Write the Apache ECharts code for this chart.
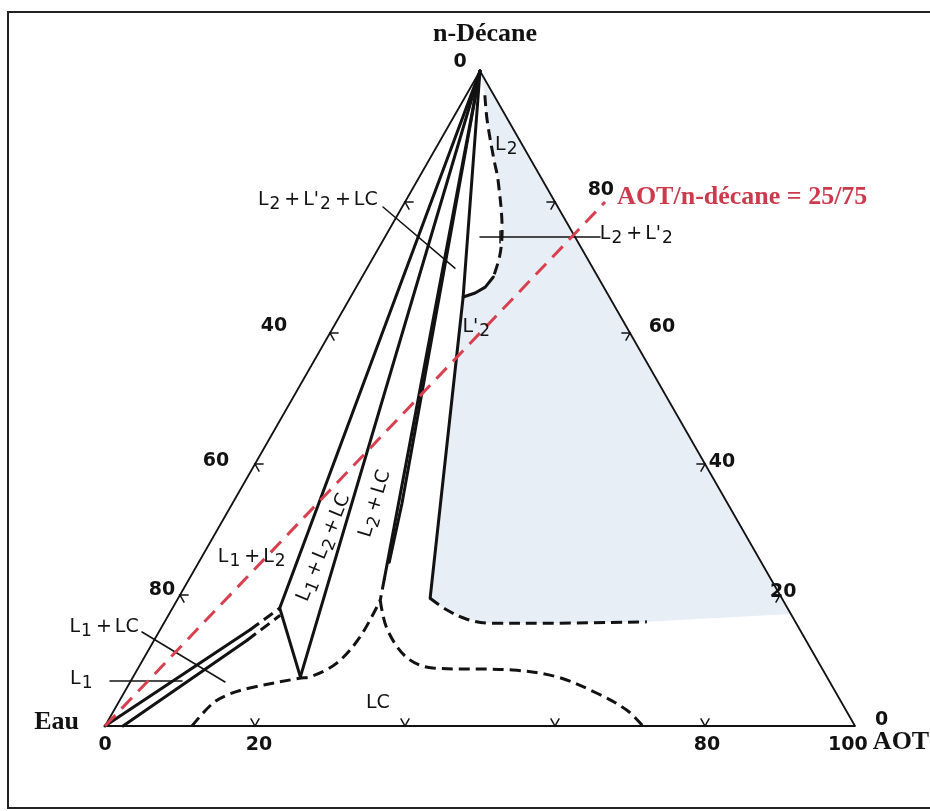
<!DOCTYPE html>
<html><head><meta charset="utf-8">
<script src="https://cdn.jsdelivr.net/npm/echarts@6/dist/echarts.min.js"></script>
<style>html,body{margin:0;padding:0;background:#fff}#c{width:930px;height:811px}</style>
</head><body><div id="c"></div>
<script>
// All compositions are ternary [AOT %, n-décane %] (water = remainder)
const triangle = [[0,0],[100,0],[0,100],[0,0]];
const bottomTicks = [20,40,60,80];   // AOT %
const leftTicks = [20,40,60,80];     // n-décane % on Eau / n-décane side
const rightTicks = [20,40,60,80];    // n-décane % on AOT / n-décane side

// solid phase boundaries / tie lines
const fanA = [[0,100],[14.3,18.0]];
const fanB = [[0,100],[22.3,7.5]];
const fanC = [[0,100],[26.0,22.5]];
const fanE = [[0,100],[22.6,34.0],[25.4,25.0]];
const fanD = [[0,100],[15.0,65.5],[33.6,19.5]];
const triBase = [[14.3,18.0],[22.3,7.5]];
const l1lcUpper = [[0,0],[12.0,14.7]];
const l1lcLower = [[2.4,0],[12.4,13.1]];
const l2Arc = [[17.5,68.55],[17.2,67.0],[16.3,66.1],[15.0,65.5]];

// dashed boundaries
const l1lcUpperDash = [[12.0,14.7],[14.3,18.0]];
const l1lcLowerDash = [[12.4,13.1],[14.9,16.9]];
const fanCDash = [[26.0,22.5],[27.1,19.2]];
const lcLeft = [[11.6,0],[12.65,3.5],[14.2,4.9],[16.4,5.8],[22.3,7.3],[23.6,7.5],[26.1,9.6],[27.2,13.6],[27.1,19.2]];
const lcRight = [[27.1,19.2],[30.3,14.7],[35.1,10.4],[39.3,8.85],[50.1,8.55],[56.5,7.5],[63.1,5.0],[68.4,2.4],[71.7,0]];
const shadeBottom = [[33.6,19.5],[36.75,17.7],[40.1,16.3],[43.5,15.7],[51.5,15.7],[64.3,15.9]];
const l2Dash = [[2.5,96.3],[4.7,92.5],[8.67,86.4],[10.7,83.4],[15.1,75.7],[16.7,71.9],[17.5,68.55]];

// single-phase shaded domain
const shade = [[0,100]].concat(l2Dash, l2Arc, shadeBottom, [[82.9,17.1]]);

// AOT / n-décane = 25/75 dilution line
const dilution = [[0,0],[26.67,80]];

// pointer lines of the labels
const pointers = [
  [[12.67,74.66],[28.67,74.66]],
  [[14.88,75.57],[15.8,73.74]],
  [[-2.55,79.24],[11.7,69.9]],
  [[-2.24,14.35],[12.64,6.72]],
  [[-2.77,6.87],[6.83,6.87]]
];

// text annotations: anchors in ternary coordinates
const labels = [
  {t:'n-Décane', at:[-2.15,105.65], k:'serif'},
  {t:'Eau', at:[-6.75,0.6], k:'serif'},
  {t:'AOT', at:[103.6,-2.44], k:'serif', al:'left'},
  {t:'0', at:[-3.35,101.37], k:'num'},
  {t:'0', at:[1.45,-2.9], k:'num'},
  {t:'20', at:[21.98,-2.9], k:'num'},
  {t:'80', at:[81.7,-2.9], k:'num'},
  {t:'100', at:[100.5,-2.9], k:'num'},
  {t:'0', at:[103.1,0.92], k:'num'},
  {t:'40', at:[-8.0,61.07], k:'num'},
  {t:'60', at:[-5.43,40.46], k:'num'},
  {t:'80', at:[-2.78,20.76], k:'num'},
  {t:'80', at:[25.2,81.83], k:'num'},
  {t:'60', at:[43.8,60.9], k:'num'},
  {t:'40', at:[62.1,40.3], k:'num'},
  {t:'20', at:[80.2,20.46], k:'num'},
  {t:'AOT/n-décane = 25/75', at:[27.9,80.76], k:'red', al:'left'},
  {t:'{a|L}{s|2}{p|+}{a|L\'}{s|2}{p|+}{a|LC}', at:[-11.7,80.15], k:'ph'},
  {t:'{a|L}{s|2}{p|+}{a|L\'}{s|2}', at:[28.5,74.96], k:'ph', al:'left'},
  {t:'{a|L}{s|2}', at:[9.3,88.55], k:'ph'},
  {t:'{a|L\'}{s|2}', at:[19.2,60.76], k:'ph'},
  {t:'{a|L}{s|1}{p|+}{a|L}{s|2}', at:[6.8,25.65], k:'ph'},
  {t:'{a|L}{s|1}{p|+}{a|L}{s|2}{p|+}{a|LC}', at:[15.7,27.18], k:'ph', rot:68},
  {t:'{a|L}{s|2}{p|+}{a|LC}', at:[19.2,33.9], k:'ph', rot:73},
  {t:'{a|L}{s|1}{p|+}{a|LC}', at:[-7.6,14.96], k:'ph'},
  {t:'{a|L}{s|1}', at:[-6.6,7.02], k:'ph'},
  {t:'{a|LC}', at:[34.7,3.36], k:'ph'}
];

const H = Math.sqrt(3) / 2;
const xy = t => [t[0] + t[1] / 2, t[1] * H];
const pts = arr => arr.map(xy);
const INK = '#121212';

function solid(data, w) {
  return {type:'line', data:pts(data), showSymbol:false, symbol:'none', clip:false, silent:true,
    animation:false, z:3, lineStyle:{color:INK, width:w || 3, cap:'round', join:'round'}};
}
function dashed(data, smooth) {
  return {type:'line', data:pts(data), showSymbol:false, symbol:'none', clip:false, silent:true,
    animation:false, z:3, smooth: smooth || 0, lineStyle:{color:INK, width:3, type:[11,6], cap:'butt'}};
}

const rich = {
  a:{fontFamily:'DejaVu Sans', fontSize:19, color:INK, lineHeight:21, verticalAlign:'top'},
  p:{fontFamily:'DejaVu Sans', fontSize:19, color:INK, lineHeight:21, verticalAlign:'top', padding:[0,3,0,3]},
  s:{fontFamily:'DejaVu Sans', fontSize:17, color:INK, lineHeight:21, verticalAlign:'top', padding:[6,1,0,1]}
};
const fonts = {
  serif:{font:'bold 26px "Liberation Serif"', fill:INK},
  num:{font:'bold 19px "DejaVu Sans"', fill:INK},
  red:{font:'bold 26px "Liberation Serif"', fill:'#cc3a4c'},
  ph:{font:'19px "DejaVu Sans"', fill:INK}
};

const tickData = [];
bottomTicks.forEach(v => tickData.push([0, v]));
leftTicks.forEach(v => tickData.push([1, v]));
rightTicks.forEach(v => tickData.push([2, v]));
const TL = 1.15;

const series = [
  {type:'custom', coordinateSystem:'cartesian2d', data:[[0,0]], silent:true, z:1, clip:false,
    renderItem:(p, api) => ({type:'polygon', shape:{points:shade.map(t => api.coord(xy(t)))},
      style:{fill:'#e8eef6', stroke:null}})},
  solid(triangle, 1.8),
  solid(fanA), solid(fanB), solid(fanC), solid(fanE), solid(fanD),
  solid(triBase), solid(l1lcUpper), solid(l1lcLower), solid(l2Arc),
  dashed(l1lcUpperDash), dashed(l1lcLowerDash), dashed(fanCDash),
  dashed(lcLeft, 0.35), dashed(lcRight, 0.35), dashed(shadeBottom, 0.35), dashed(l2Dash, 0.35)
];
pointers.forEach(p => series.push(solid(p, 1.5)));
series.push({type:'custom', coordinateSystem:'cartesian2d', data:tickData, silent:true, z:4, clip:false,
  renderItem:(p, api) => {
    const e = api.value(0), v = api.value(1);
    let P, A, B;
    if (e === 0) { P = [v,0]; A = [v, TL]; B = [v - TL, TL]; }
    else if (e === 1) { P = [0,v]; A = [TL, v]; B = [TL, v - TL]; }
    else { P = [100 - v, v]; A = [100 - v - TL, v]; B = [100 - v, v - TL]; }
    return {type:'polyline', shape:{points:[A,P,B].map(t => api.coord(xy(t)))},
      style:{stroke:INK, lineWidth:1.5, fill:null}};
  }});
series.push({type:'line', data:pts(dilution), showSymbol:false, symbol:'none', clip:false, silent:true,
  animation:false, z:6, lineStyle:{color:'#d8404f', width:3, type:[15,9]}});
series.push({type:'custom', coordinateSystem:'cartesian2d', data:labels.map((l, i) => [i, 0]), silent:true, z:7, clip:false,
  renderItem:(p, api) => {
    const l = labels[api.value(0)];
    const c = api.coord(xy(l.at));
    const f = fonts[l.k];
    const style = {text:l.t, x:0, y:0, align:l.al || 'center', verticalAlign:'middle', font:f.font, fill:f.fill};
    if (l.k === 'ph') style.rich = rich;
    return {type:'text', x:c[0], y:c[1], rotation:(l.rot || 0) * Math.PI / 180, style:style};
  }});

const chart = echarts.init(document.getElementById('c'));
chart.setOption({
  animation:false,
  backgroundColor:'#ffffff',
  grid:{left:105, top:71, width:750, height:655},
  xAxis:{type:'value', min:0, max:100, show:false},
  yAxis:{type:'value', min:0, max:100 * H, show:false},
  graphic:[{type:'rect', shape:{x:8, y:12, width:960, height:796}, style:{fill:null, stroke:'#222', lineWidth:2}, z:10}],
  series:series
});
</script></body></html>
